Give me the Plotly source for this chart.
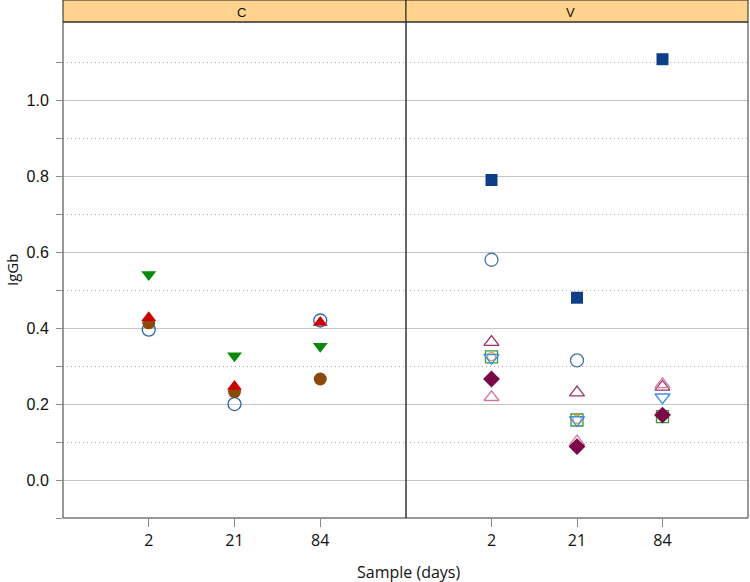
import plotly.graph_objects as go

days = ["2", "21", "84"]

# Panel C series
c_open_circle = [0.396, 0.200, 0.420]
c_brown_circle = [0.414, 0.233, 0.266]
c_red_tri = [0.427, 0.246, 0.415]
c_green_tridown = [0.541, 0.327, 0.352]

# Panel V series
v_navy_square = [0.790, 0.480, 1.108]
v_open_circle = [0.580, 0.315, None]
v_purple_tri = [0.363, 0.230, 0.245]
v_pink_tri = [0.218, 0.101, 0.252]
v_green_square = [0.324, 0.158, 0.167]
v_orange = [0.325, 0.160, 0.175]
v_blue_tridown = [0.322, 0.158, 0.218]
v_diamond = [0.266, 0.088, 0.171]

major_y = [0.0, 0.2, 0.4, 0.6, 0.8, 1.0]
minor_y = [-0.1, 0.1, 0.3, 0.5, 0.7, 0.9, 1.1]
major_lbl = ["0.0", "0.2", "0.4", "0.6", "0.8", "1.0"]

fig = go.Figure()

def add(y, symbol, color, size, xa, ya, lw=1.3):
    fig.add_trace(go.Scatter(
        x=days, y=y, mode="markers", xaxis=xa, yaxis=ya, showlegend=False,
        marker=dict(symbol=symbol, size=size, color=color,
                    line=dict(color=color, width=lw if symbol.endswith("open") else 0))))

# C panel
add(c_open_circle, "circle-open", "#2f62a3", 13, "x", "y")
add(c_brown_circle, "circle", "#8b4a0c", 13, "x", "y")
add(c_red_tri, "triangle-up", "#cc0000", 13, "x", "y")
add(c_green_tridown, "triangle-down", "#0a8a0a", 13, "x", "y")

# V panel
add(v_navy_square, "square", "#0c3f87", 12, "x2", "y2")
add(v_open_circle, "circle-open", "#4a72a8", 13, "x2", "y2")
add(v_purple_tri, "triangle-up-open", "#993366", 13, "x2", "y2")
add(v_pink_tri, "triangle-up-open", "#d477a3", 13, "x2", "y2")
add(v_green_square, "square-open", "#3a9a3a", 12, "x2", "y2")
add(v_orange, "circle-open", "#f0a030", 8, "x2", "y2")
add(v_blue_tridown, "triangle-down-open", "#3a8ee8", 13, "x2", "y2")
add(v_diamond, "diamond", "#7a0a47", 13, "x2", "y2")

xl, xm, xr = 63 / 750, 406 / 750, 748 / 750
yb, yt = (582 - 518) / 582, (582 - 22) / 582

xcommon = dict(range=[-1, 3], type="category", showgrid=False, zeroline=False,
               ticks="outside", ticklen=8, tickcolor="#888", automargin=False,
               tickfont=dict(family="Open Sans", size=16, color="#111"),
               showline=False)
minor_grid = dict(tickmode="array", tickvals=minor_y, showgrid=True,
                  gridcolor="#a8a8a8", griddash="1px,3px", gridwidth=1)
ycommon = dict(range=[-0.1, 1.206], tickmode="array", tickvals=major_y, ticktext=major_lbl,
               showgrid=True, gridcolor="#c4c4c4", gridwidth=1, zeroline=False,
               automargin=False, domain=[yb, yt])

fig.update_layout(
    width=750, height=582, margin=dict(l=0, r=0, t=0, b=0, autoexpand=False),
    paper_bgcolor="white", plot_bgcolor="white",
    xaxis=dict(domain=[xl, xm], anchor="y", **xcommon),
    xaxis2=dict(domain=[xm, xr], anchor="y2", **xcommon),
    yaxis=dict(anchor="x", ticks="outside", ticklen=6, tickcolor="#888",
               tickfont=dict(family="Liberation Sans", size=16, color="#111"),
               ticklabelstandoff=4,
               minor=dict(ticks="outside", ticklen=6, tickcolor="#888", **minor_grid),
               **ycommon),
    yaxis2=dict(anchor="x2", matches="y", showticklabels=False, ticks="",
                minor=dict(ticks="", **minor_grid), **ycommon),
    font=dict(family="Open Sans"),
)

shapes = []
for x0, x1 in [(xl, xm), (xm, xr)]:
    shapes.append(dict(type="rect", xref="paper", yref="paper", x0=x0, x1=x1, y0=yt, y1=1.0,
                       fillcolor="#ffd38e", line=dict(color="#222", width=1), layer="above"))
    shapes.append(dict(type="rect", xref="paper", yref="paper", x0=x0, x1=x1, y0=yb, y1=yt,
                       fillcolor="rgba(0,0,0,0)", line=dict(color="#333", width=1), layer="above"))
fig.update_layout(shapes=shapes)

fig.add_annotation(x=(xl + xm) / 2, y=(yt + 1) / 2 - 0.002, xref="paper", yref="paper", text="C",
                   showarrow=False, yanchor="middle",
                   font=dict(family="Liberation Sans", size=13, color="#111"))
fig.add_annotation(x=(xm + xr) / 2, y=(yt + 1) / 2 - 0.002, xref="paper", yref="paper", text="V",
                   showarrow=False, yanchor="middle",
                   font=dict(family="Liberation Sans", size=13, color="#111"))
fig.add_annotation(x=408 / 750, y=(582 - 572) / 582, xref="paper", yref="paper",
                   text="Sample (days)", showarrow=False, yanchor="middle",
                   font=dict(family="Open Sans", size=16, color="#111"))
fig.add_annotation(x=12 / 750, y=(582 - 270) / 582, xref="paper", yref="paper",
                   text="IgGb", showarrow=False, textangle=-90, xanchor="center",
                   font=dict(family="Open Sans", size=15, color="#111"))

fig.write_html("out.html", config={"displayModeBar": False},
               post_script="document.body.style.margin='0';document.body.style.overflow='hidden';")
